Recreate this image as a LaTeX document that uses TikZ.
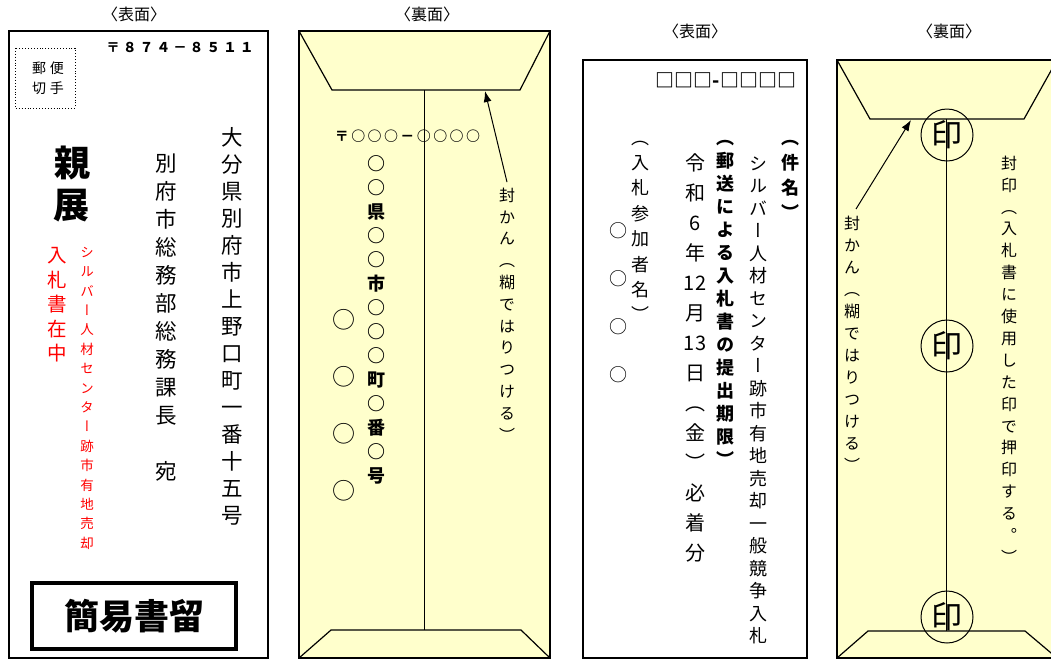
\documentclass[tikz,border=0pt]{standalone}
\usepackage{fontspec}
\usetikzlibrary{arrows.meta}
\newfontfamily\jp{Noto Sans CJK JP}
\newfontfamily\jpv[RawFeature={+vert}]{Noto Sans CJK JP}
\definecolor{envy}{HTML}{FFFFCC}
\makeatletter
\newdimen\vt@pitch
\newcommand\vstack[2]{\vt@pitch=#1\relax
  \vbox{\offinterlineskip
    \@tfor\vt@x:=#2\do{\hbox to 3em{\hss\vbox to\vt@pitch{\vss\hbox{\vrule height .88em depth .12em width 0pt\vt@x}\vss}\hss}}}}
\newcommand\hspread[2]{\@tfor\vt@x:=#2\do{\hbox to #1{\hss\vt@x\hss}}}
\makeatother
\newcommand\vcol[6]{\node[#5] (#1) at (#2,{#3-#4/2}) {\vstack{#4pt}{#6}};}
\tikzset{
  vt/.style={inner sep=0pt, anchor=north, font=\jpv\fontsize{#1}{#1}\selectfont},
  vtb/.style={inner sep=0pt, anchor=north, font=\jpv\bfseries\fontsize{#1}{#1}\selectfont},
  hz/.style={inner sep=0pt, font=\jp\fontsize{#1}{#1}\selectfont},
  hzb/.style={inner sep=0pt, font=\jp\bfseries\fontsize{#1}{#1}\selectfont},
  env/.style={line width=2.2pt},
  flap/.style={line width=1.2pt, line join=miter},
  mid/.style={line width=1pt},
  arr/.style={line width=1pt, -{Latex[length=11pt,width=8pt]}},
  seal/.style={circle, draw, line width=1pt, minimum size=52pt, inner sep=0pt, font=\jp\fontsize{31}{31}\selectfont}
}
\begin{document}
\begin{tikzpicture}[x=1pt,y=-1pt]
\useasboundingbox (0,0) rectangle (1051,659);
\fill[white] (0,0) rectangle (1051,659);

% ---------------- Envelope 1 : front
\node[hz=16] (lab1) at (134,14) {〈表面〉};
\draw[env] (9,31) rectangle (268,658);
\draw[dotted, line width=0.9pt] (15,48) rectangle (75,108);
\node[hz=14] (stamp1) at (48,68) {\hspread{18pt}{郵便}};
\node[hz=14] (stamp2) at (48,88) {\hspread{18pt}{切手}};
\node[hzb=13.5] (zip1) at (180,47) {\hspread{16.7pt}{〒８７４－８５１１}};
\vcol{addr1}{232}{137}{27}{vt=21.5}{大分県別府市上野口町一番十五号}
\vcol{dept1}{166}{163}{28}{vt=21.5}{別府市総務部総務課長　宛}
\vcol{shin1}{72}{163}{42}{vtb=36}{親展}
\vcol{nyu1}{57}{255}{24.5}{vt=19.5, text=red}{入札書在中}
\vcol{sil1}{87}{252}{19.4}{vt=13.5, text=red}{シルバー人材センター跡市有地売却}
\node[draw, line width=4pt, minimum width=204pt, minimum height=66pt, inner sep=0pt] (kan1box) at (134,616) {};
\node[hzb=35] (kan1) at (134,616) {簡易書留};

% ---------------- Envelope 2 : back
\node[hz=16] (lab2) at (427,14) {〈裏面〉};
\fill[envy] (299,31) rectangle (550,658);
\draw[flap] (299,31) -- (332,90) -- (520,90) -- (550,31);
\draw[flap] (299,658) -- (331,630) -- (521,630) -- (550,658);
\draw[mid] (424,90) -- (424,630);
\draw[env] (299,31) rectangle (550,658);
\node[hzb=14] (zip2) at (407.5,136) {\hspread{16.4pt}{〒○○○－○○○○}};
\vcol{addr2}{376}{163}{24}{vtb=18}{○○県○○市○○○町○番○号}
\vcol{name2}{344}{320}{56.7}{vt=23}{○○○○}
\vcol{kan2}{507}{195}{21.8}{vt=16}{封かん（糊ではりつける）}
\coordinate (flap2) at (485,91);
\draw[arr] ([shift={(0,-2)}]kan2.north) -- (flap2);

% ---------------- Envelope 3 : front
\node[hz=16] (lab3) at (695,31) {〈表面〉};
\draw[env] (583,60) rectangle (807,658);
\node[hzb=19] (zip3) at (726,80) {□□□-□□□□};
\vcol{ken3}{790}{137}{25}{vtb=18}{（件名）}
\vcol{sil3}{758}{163}{22.5}{vt=18}{シルバー人材センター跡市有地売却一般競争入札}
\vcol{yuso3}{725}{137}{23}{vtb=18}{（郵送による入札書の提出期限）}
\vcol{date3}{695}{163}{30}{vt=20}{令和6年{12}月{13}日（金）必着分}
\vcol{sanka3}{640}{137}{25.4}{vt=18}{（入札参加者名）}
\vcol{circ3}{618}{230}{48}{vt=18}{○○○○}

% ---------------- Envelope 4 : back
\node[hz=16] (lab4) at (949,31) {〈裏面〉};
\fill[envy] (837,60) rectangle (1062,658);
\draw[flap] (837,60) -- (870,119) -- (1024,119) -- (1057,60);
\draw[flap] (837,658) -- (868,631) -- (1025,631) -- (1057,658);
\draw[mid] (946,119) -- (946,631);
\draw[env] (837,60) rectangle (1062,658);
\node[seal] (seal1) at (947,135) {印};
\node[seal] (seal2) at (947,346) {印};
\node[seal] (seal3) at (947,617) {印};
\vcol{kan4}{852}{223}{22}{vt=16}{封かん（糊ではりつける）}
\coordinate (flap4) at (911,120);
\draw[arr] ([shift={(4,-3)}]kan4.north) -- (flap4);
\vcol{fuin4}{1009}{163}{21.9}{vt=16}{封印（入札書に使用した印で押印する。）}
\end{tikzpicture}
\end{document}
